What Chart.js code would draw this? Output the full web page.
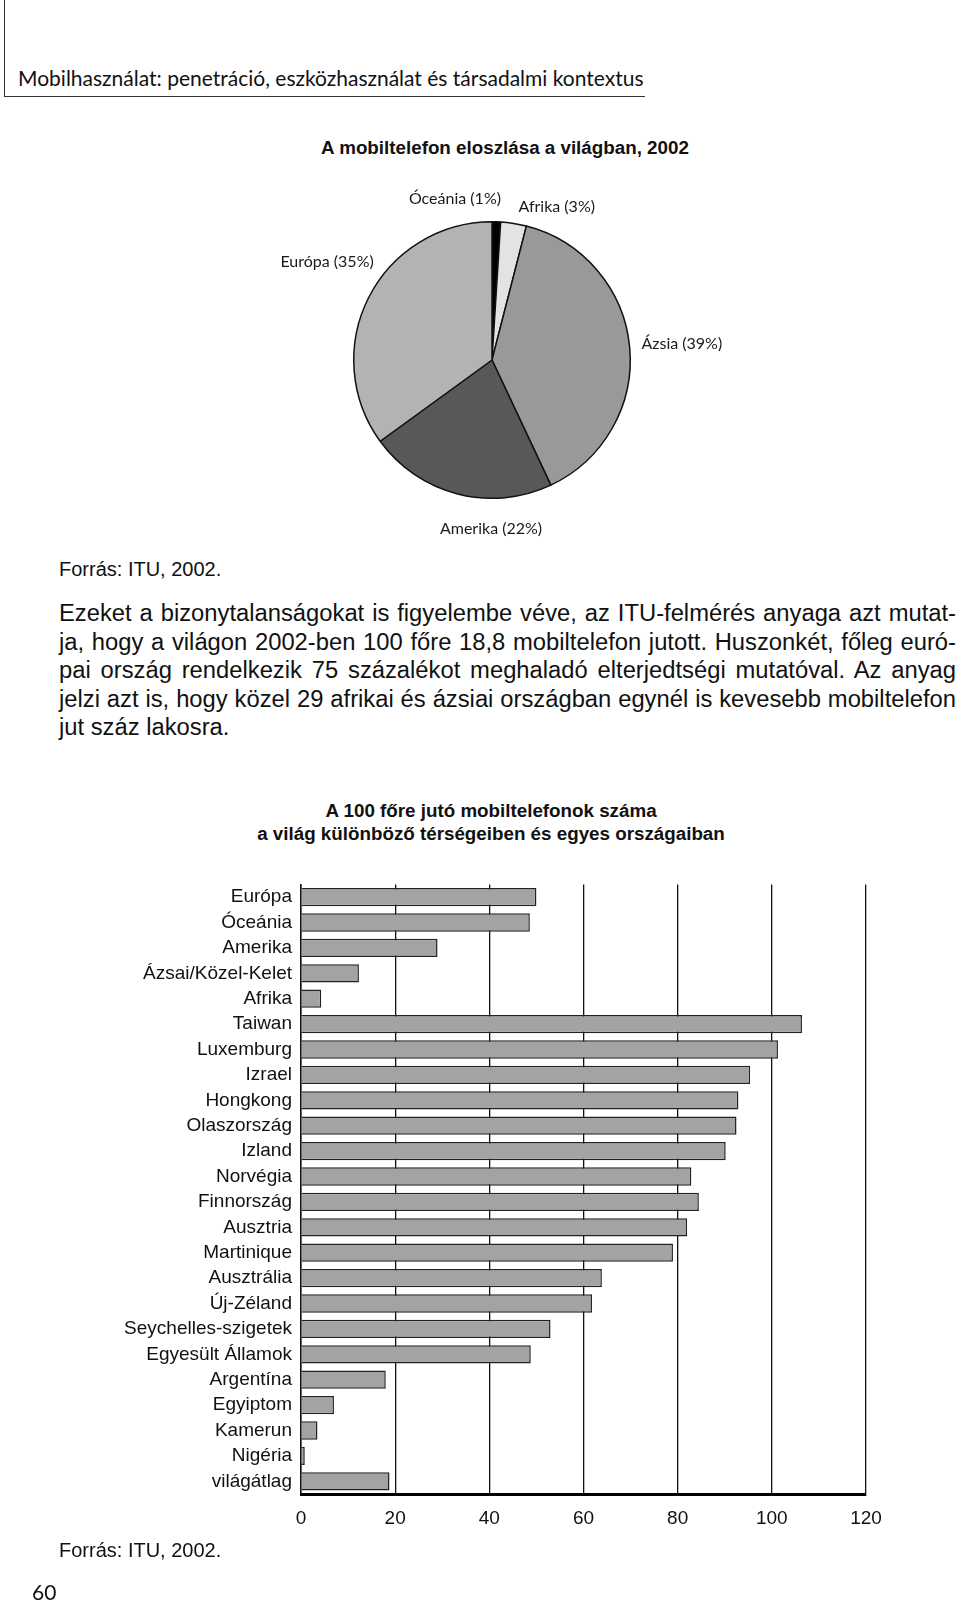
<!DOCTYPE html>
<html lang="hu">
<head>
<meta charset="utf-8">
<script src="https://cdn.jsdelivr.net/npm/chart.js@4.4.1/dist/chart.umd.min.js"></script>
<style>
  html, body { margin: 0; padding: 0; background: #fff; }
  body { width: 960px; height: 1605px; position: relative; overflow: hidden; color: #111; font-family: "Liberation Sans", Arial, sans-serif; }
  .abs { position: absolute; white-space: nowrap; }
  #header { left: 4px; top: 0; width: 640px; height: 96px; border-left: 1.5px solid #333; border-bottom: 1.5px solid #333; }
  #header span { position: absolute; left: 13px; top: 65px; font-family: Lato, sans-serif; font-size: 21px; color: #111; }
  .title { font-weight: bold; font-size: 18.8px; text-align: center; }
  .src { font-size: 20px; }
  #para { left: 59px; top: 599px; width: 897px; font-size: 20.5px; line-height: 28.5px; }
  #para div { text-align: justify; text-align-last: justify; white-space: nowrap; }
  #para div.last { text-align-last: left; }
  #pageno { left: 32px; top: 1579px; font-family: Lato, sans-serif; font-size: 21px; }
</style>
</head>
<body>
<div id="header" class="abs"><span>Mobilhasználat: penetráció, eszközhasználat és társadalmi kontextus</span></div>

<div class="abs title" style="left:255px; top:137px; width:500px;">A mobiltelefon eloszlása a világban, 2002</div>
<canvas id="pieChart" class="abs" width="500" height="360" style="left:242px; top:180px;"></canvas>

<div class="abs src" style="left:59px; top:558px;">Forrás: ITU, 2002.</div>

<div id="para" class="abs">
  <div>Ezeket a bizonytalanságokat is figyelembe véve, az ITU-felmérés anyaga azt mutat-</div>
  <div>ja, hogy a világon 2002-ben 100 főre 18,8 mobiltelefon jutott. Huszonkét, főleg euró-</div>
  <div>pai ország rendelkezik 75 százalékot meghaladó elterjedtségi mutatóval. Az anyag</div>
  <div>jelzi azt is, hogy közel 29 afrikai és ázsiai országban egynél is kevesebb mobiltelefon</div>
  <div class="last">jut száz lakosra.</div>
</div>

<div class="abs title" style="left:191px; top:800px; width:600px; line-height:22.5px;">A 100 főre jutó mobiltelefonok száma<br>a világ különböző térségeiben és egyes országaiban</div>
<canvas id="barChart" class="abs" width="960" height="688" style="left:0; top:864px;"></canvas>

<div class="abs src" style="left:59px; top:1539px;">Forrás: ITU, 2002.</div>
<div id="pageno" class="abs">60</div>

<script>
// Pie: share of mobile phones by region, 2002 (clockwise from 12 o'clock)
const pieRegions = ['Óceánia', 'Afrika', 'Ázsia', 'Amerika', 'Európa'];
const pieShares = [1, 3, 39, 22, 35];
const pieColors = ['#000000', '#e3e3e3', '#999999', '#585858', '#b3b3b3'];

// Bars: mobile phones per 100 inhabitants
const barCategories = ['Európa', 'Óceánia', 'Amerika', 'Ázsai/Közel-Kelet', 'Afrika', 'Taiwan', 'Luxemburg',
  'Izrael', 'Hongkong', 'Olaszország', 'Izland', 'Norvégia', 'Finnország', 'Ausztria', 'Martinique',
  'Ausztrália', 'Új-Zéland', 'Seychelles-szigetek', 'Egyesült Államok', 'Argentína', 'Egyiptom',
  'Kamerun', 'Nigéria', 'világátlag'];
const barValues = [50.0, 48.6, 29.0, 12.3, 4.3, 106.4, 101.3, 95.4, 92.9, 92.5, 90.2, 82.9, 84.5, 82.0, 79.0,
  63.9, 61.8, 53.0, 48.8, 18.0, 7.0, 3.5, 0.8, 18.8];
const xTicks = [0, 20, 40, 60, 80, 100, 120];

// fit the paragraph font so the widest line just fills the column
(function fitParagraph() {
  const para = document.getElementById('para');
  const lines = Array.from(para.querySelectorAll('div:not(.last)'));
  const m = document.createElement('canvas').getContext('2d');
  m.font = '20px "Liberation Sans"';
  const widest = Math.max(...lines.map(l => m.measureText(l.textContent).width));
  para.style.fontSize = (20 * 893 / widest).toFixed(2) + 'px';
})();

// where each pie label sits, in units of the pie radius from its centre
const pieLabelPlacement = [[-0.268, -1.163], [0.468, -1.105], [1.373, -0.118], [-0.007, 1.222], [-1.193, -0.707]];

const pieLabelPlugin = {
  id: 'pieLabels',
  afterDraw(chart) {
    const ctx = chart.ctx;
    const arcs = chart.getDatasetMeta(0).data;
    ctx.save();
    ctx.font = '16px Lato, sans-serif';
    ctx.fillStyle = '#1a1a1a';
    ctx.textAlign = 'center';
    ctx.textBaseline = 'middle';
    arcs.forEach((arc, i) => {
      const r = arc.outerRadius;
      const p = pieLabelPlacement[i];
      ctx.fillText(pieRegions[i] + ' (' + pieShares[i] + '%)', arc.x + p[0] * r, arc.y + p[1] * r);
    });
    ctx.restore();
  }
};

new Chart(document.getElementById('pieChart'), {
  type: 'pie',
  data: {
    labels: pieRegions,
    datasets: [{
      data: pieShares,
      backgroundColor: pieColors,
      borderColor: '#111',
      borderWidth: 1.5
    }]
  },
  options: {
    responsive: false,
    animation: false,
    layout: { padding: { top: 41, bottom: 41 } },
    plugins: { legend: { display: false }, tooltip: { enabled: false } }
  },
  plugins: [pieLabelPlugin]
});

new Chart(document.getElementById('barChart'), {
  type: 'bar',
  data: {
    labels: barCategories,
    datasets: [{
      data: barValues,
      backgroundColor: '#a3a3a3',
      borderColor: '#222',
      borderWidth: 1.5,
      barPercentage: 0.9,
      categoryPercentage: 0.8
    }]
  },
  options: {
    indexAxis: 'y',
    responsive: false,
    animation: false,
    layout: { padding: { top: 0, right: 94, left: 0, bottom: 0 } },
    scales: {
      x: {
        min: 0,
        max: 120,
        afterBuildTicks: axis => { axis.ticks = xTicks.map(v => ({ value: v })); },
        afterFit: axis => { axis.height = 58; },
        grid: { color: '#111', lineWidth: 1.3, drawTicks: false },
        border: { display: true, color: '#000', width: 3 },
        ticks: { font: { family: 'Liberation Sans', size: 19 }, color: '#111', padding: 13 }
      },
      y: {
        afterFit: axis => { axis.width = 301; },
        grid: { display: false, drawTicks: false },
        border: { display: true, color: '#111', width: 1.5 },
        ticks: { autoSkip: false, font: { family: 'Liberation Sans', size: 19 }, color: '#111', padding: 9 }
      }
    },
    plugins: { legend: { display: false }, tooltip: { enabled: false } }
  }
});
</script>
</body>
</html>
